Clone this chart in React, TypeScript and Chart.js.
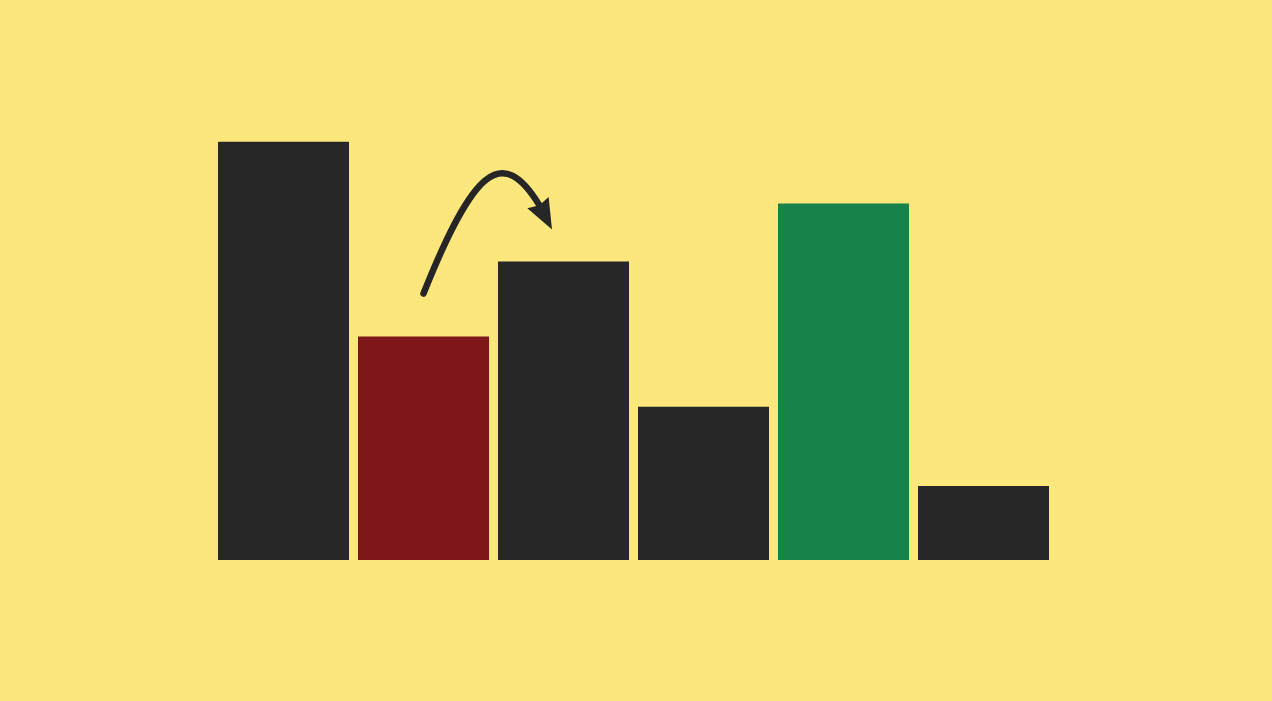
import React, { useEffect, useRef } from "react";
import { Chart, registerables } from "chart.js";

Chart.register(...registerables);

const categories = ["A", "B", "C", "D", "E", "F"];
const values = [100, 53.4, 71.3, 36.6, 85.2, 17.7];
const barColors = ["#262626", "#7f1718", "#262626", "#262626", "#17834b", "#262626"];
const BG = "#fce77d";

const arrowPlugin = {
  id: "arrowPlugin",
  afterDatasetsDraw(chart: any) {
    const meta = chart.getDatasetMeta(0);
    const b2 = meta.data[1];
    const b3 = meta.data[2];
    if (!b2 || !b3) return;
    const ctx = chart.ctx;
    const w3 = b3.width;
    const left3 = b3.x - w3 / 2;
    const p0 = { x: b2.x, y: b2.y - 43 };
    const tip = { x: left3 + 54, y: b3.y - 32 };
    const baseMid = { x: tip.x - 14, y: tip.y - 27 };
    const p1 = { x: p0.x + 50, y: p0.y - 125 };
    const p2 = { x: baseMid.x - 36, y: baseMid.y - 58 };
    ctx.save();
    ctx.strokeStyle = "#262626";
    ctx.fillStyle = "#262626";
    ctx.lineWidth = 6.5;
    ctx.lineCap = "round";
    ctx.beginPath();
    ctx.moveTo(p0.x, p0.y);
    ctx.bezierCurveTo(p1.x, p1.y, p2.x, p2.y, baseMid.x + 1, baseMid.y + 2);
    ctx.stroke();
    // arrow head
    const dx = tip.x - baseMid.x;
    const dy = tip.y - baseMid.y;
    const len = Math.hypot(dx, dy);
    const ux = dx / len;
    const uy = dy / len;
    const px = -uy;
    const py = ux;
    const half = 12;
    ctx.beginPath();
    ctx.moveTo(tip.x, tip.y);
    ctx.lineTo(baseMid.x + px * half, baseMid.y + py * half);
    ctx.lineTo(baseMid.x + ux * 3, baseMid.y + uy * 3);
    ctx.lineTo(baseMid.x - px * half, baseMid.y - py * half);
    ctx.closePath();
    ctx.fill();
    ctx.restore();
  },
};

export default function App() {
  const canvasRef = useRef<HTMLCanvasElement | null>(null);
  useEffect(() => {
    if (!canvasRef.current) return;
    const chart = new Chart(canvasRef.current, {
      type: "bar",
      data: {
        labels: categories,
        datasets: [
          {
            data: values,
            backgroundColor: barColors,
            borderWidth: 0,
            barPercentage: 1,
            categoryPercentage: 131 / 140,
          },
        ],
      },
      options: {
        animation: false,
        responsive: true,
        maintainAspectRatio: false,
        layout: { padding: { left: 213.5, right: 218.5, top: 141.5, bottom: 141 } },
        plugins: { legend: { display: false }, tooltip: { enabled: false } },
        scales: {
          x: { display: false },
          y: { display: false, min: 0, max: 100 },
        },
      },
      plugins: [arrowPlugin],
    });
    return () => chart.destroy();
  }, []);
  return (
    <div style={{ position: "fixed", left: 0, top: 0, width: "1272px", height: "701px", background: BG }}>
      <canvas ref={canvasRef} />
    </div>
  );
}
